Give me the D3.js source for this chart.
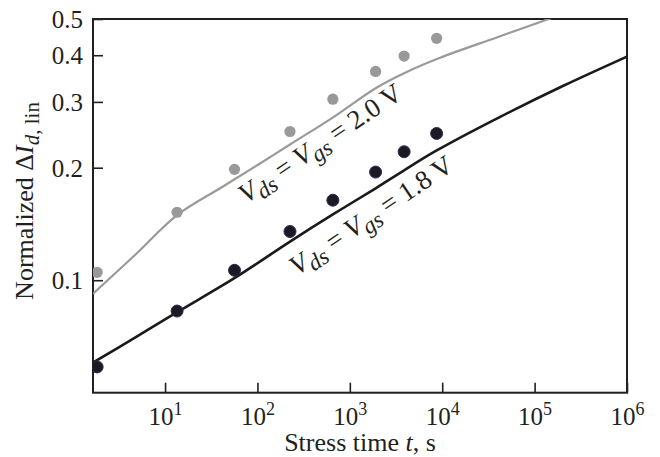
<!DOCTYPE html>
<html>
<head>
<meta charset="utf-8">
<script src="https://cdnjs.cloudflare.com/ajax/libs/d3/7.8.5/d3.min.js"></script>
<style>
  body { margin: 0; background: #fff; }
  svg text { font-family: "Liberation Serif", "Times New Roman", serif; fill: #231f20; }
</style>
</head>
<body>
<div id="chart"></div>
<script>
// measured points (stress time in s, normalized delta Id)
var stressTime = [1.84, 13.5, 56.5, 225, 655, 1900, 3870, 8700];
var dId20 = [0.105, 0.152, 0.198, 0.250, 0.305, 0.362, 0.398, 0.444];
var dId18 = [0.0586, 0.0827, 0.1063, 0.135, 0.1637, 0.1947, 0.2207, 0.247];

// model curves
var fitTime20 = [1.66, 4.73, 13.5, 41.1, 106.7, 225, 653, 1905, 3866, 9460, 38900, 159600, 1e6];
var fitVal20 = [0.092, 0.1168, 0.1493, 0.1773, 0.2053, 0.2308, 0.2724, 0.3264, 0.3579, 0.3936, 0.4463, 0.5051, 0.5901];
var fitTime18 = [1.66, 4.73, 13.5, 56.8, 221, 662, 1905, 3866, 8710, 38900, 204600, 1e6];
var fitVal18 = [0.0602, 0.0702, 0.0821, 0.1014, 0.1265, 0.1502, 0.1762, 0.1968, 0.2224, 0.2707, 0.3314, 0.3967];

var xTicks = [1e1, 1e2, 1e3, 1e4, 1e5, 1e6];
var yTicks = [0.1, 0.2, 0.3, 0.4, 0.5];

function init() {

  var width = 660, height = 457;
  var left = 93, right = 627, top = 19, bottom = 392.7;
  var ink = "#231f20";

  var svg = d3.select("#chart")
    .append("svg")
    .attr("width", width)
    .attr("height", height);

  var x = d3.scaleLog()
    .domain([1.66, 1e6])
    .range([left, right]);

  var y = d3.scaleLog()
    .domain([0.05, 0.5])
    .range([bottom, top]);

  svg.append("clipPath")
    .attr("id", "plotclip")
    .append("rect")
    .attr("x", left)
    .attr("y", top)
    .attr("width", right - left)
    .attr("height", bottom - top);

  // X axis, ticks pointing inward
  var gx = svg.append("g")
    .attr("transform", "translate(0," + bottom + ")")
    .call(d3.axisBottom(x).tickValues(xTicks).tickSizeInner(-10).tickSizeOuter(0));
  gx.select(".domain").remove();
  gx.selectAll(".tick line").attr("stroke", ink).attr("stroke-width", 1.6);
  gx.selectAll(".tick text")
    .text(null)
    .attr("y", 32)
    .attr("dy", 0)
    .attr("font-size", 25)
    .each(function(d) {
      var t = d3.select(this);
      t.append("tspan").text("10");
      t.append("tspan").attr("dy", -10).attr("font-size", 18).text(Math.round(Math.log10(d)));
    });

  // Y axis
  var gy = svg.append("g")
    .attr("transform", "translate(" + left + ",0)")
    .call(d3.axisLeft(y).tickValues(yTicks).tickSizeInner(-10).tickSizeOuter(0).tickFormat(d3.format(".1f")));
  gy.select(".domain").remove();
  gy.selectAll(".tick line").attr("stroke", ink).attr("stroke-width", 1.6);
  gy.selectAll(".tick text")
    .attr("x", -10)
    .attr("dy", "0.34em")
    .attr("font-size", 25);

  // frame
  svg.append("rect")
    .attr("x", left)
    .attr("y", top)
    .attr("width", right - left)
    .attr("height", bottom - top)
    .attr("fill", "none")
    .attr("stroke", ink)
    .attr("stroke-width", 2);

  var line = d3.line()
    .x(function(d) { return x(d[0]); })
    .y(function(d) { return y(d[1]); })
    .curve(d3.curveCatmullRom.alpha(0.5));

  var plot = svg.append("g").attr("clip-path", "url(#plotclip)");

  plot.append("path")
    .datum(d3.zip(fitTime20, fitVal20))
    .attr("d", line)
    .attr("fill", "none")
    .attr("stroke", "#9a9a9a")
    .attr("stroke-width", 2.2);

  plot.append("path")
    .datum(d3.zip(fitTime18, fitVal18))
    .attr("d", line)
    .attr("fill", "none")
    .attr("stroke", "#1a1a1a")
    .attr("stroke-width", 2.6);

  // Add dots
  plot.append("g")
    .selectAll("circle")
    .data(d3.zip(stressTime, dId20))
    .enter()
    .append("circle")
    .attr("cx", function(d) { return x(d[0]); })
    .attr("cy", function(d) { return y(d[1]); })
    .attr("r", 5.6)
    .style("fill", "#999999");

  plot.append("g")
    .selectAll("circle")
    .data(d3.zip(stressTime, dId18))
    .enter()
    .append("circle")
    .attr("cx", function(d) { return x(d[0]); })
    .attr("cy", function(d) { return y(d[1]); })
    .attr("r", 6)
    .style("fill", "#1c1a22")
    .style("stroke", "#2e2a5c")
    .style("stroke-width", 1);

  // curve labels
  function curveLabel(px, py, volts) {
    var t = svg.append("text")
      .attr("transform", "translate(" + px + "," + py + ") rotate(-34)")
      .attr("font-size", 27);
    t.append("tspan").attr("font-style", "italic").text("V");
    t.append("tspan").attr("font-style", "italic").attr("font-size", 23).attr("dy", 6).text("ds");
    t.append("tspan").attr("dy", -6).text(" = ");
    t.append("tspan").attr("font-style", "italic").text("V");
    t.append("tspan").attr("font-style", "italic").attr("font-size", 23).attr("dy", 6).text("gs");
    t.append("tspan").attr("dy", -6).text(" = " + volts + " V");
  }
  curveLabel(246, 204, "2.0");
  curveLabel(297, 276, "1.8");

  // axis titles
  var xt = svg.append("text")
    .attr("x", (left + right) / 2)
    .attr("y", 451)
    .attr("text-anchor", "middle")
    .attr("font-size", 26);
  xt.append("tspan").text("Stress time ");
  xt.append("tspan").attr("font-style", "italic").text("t");
  xt.append("tspan").text(", s");

  var yt = svg.append("text")
    .attr("transform", "translate(33,201) rotate(-90)")
    .attr("text-anchor", "middle")
    .attr("font-size", 26);
  yt.append("tspan").text("Normalized \u0394");
  yt.append("tspan").attr("font-style", "italic").text("I");
  yt.append("tspan").attr("font-style", "italic").attr("font-size", 21).attr("dy", 6).text("d");
  yt.append("tspan").attr("font-size", 21).text(", lin");
}
window.onload = init;
</script>
</body>
</html>
